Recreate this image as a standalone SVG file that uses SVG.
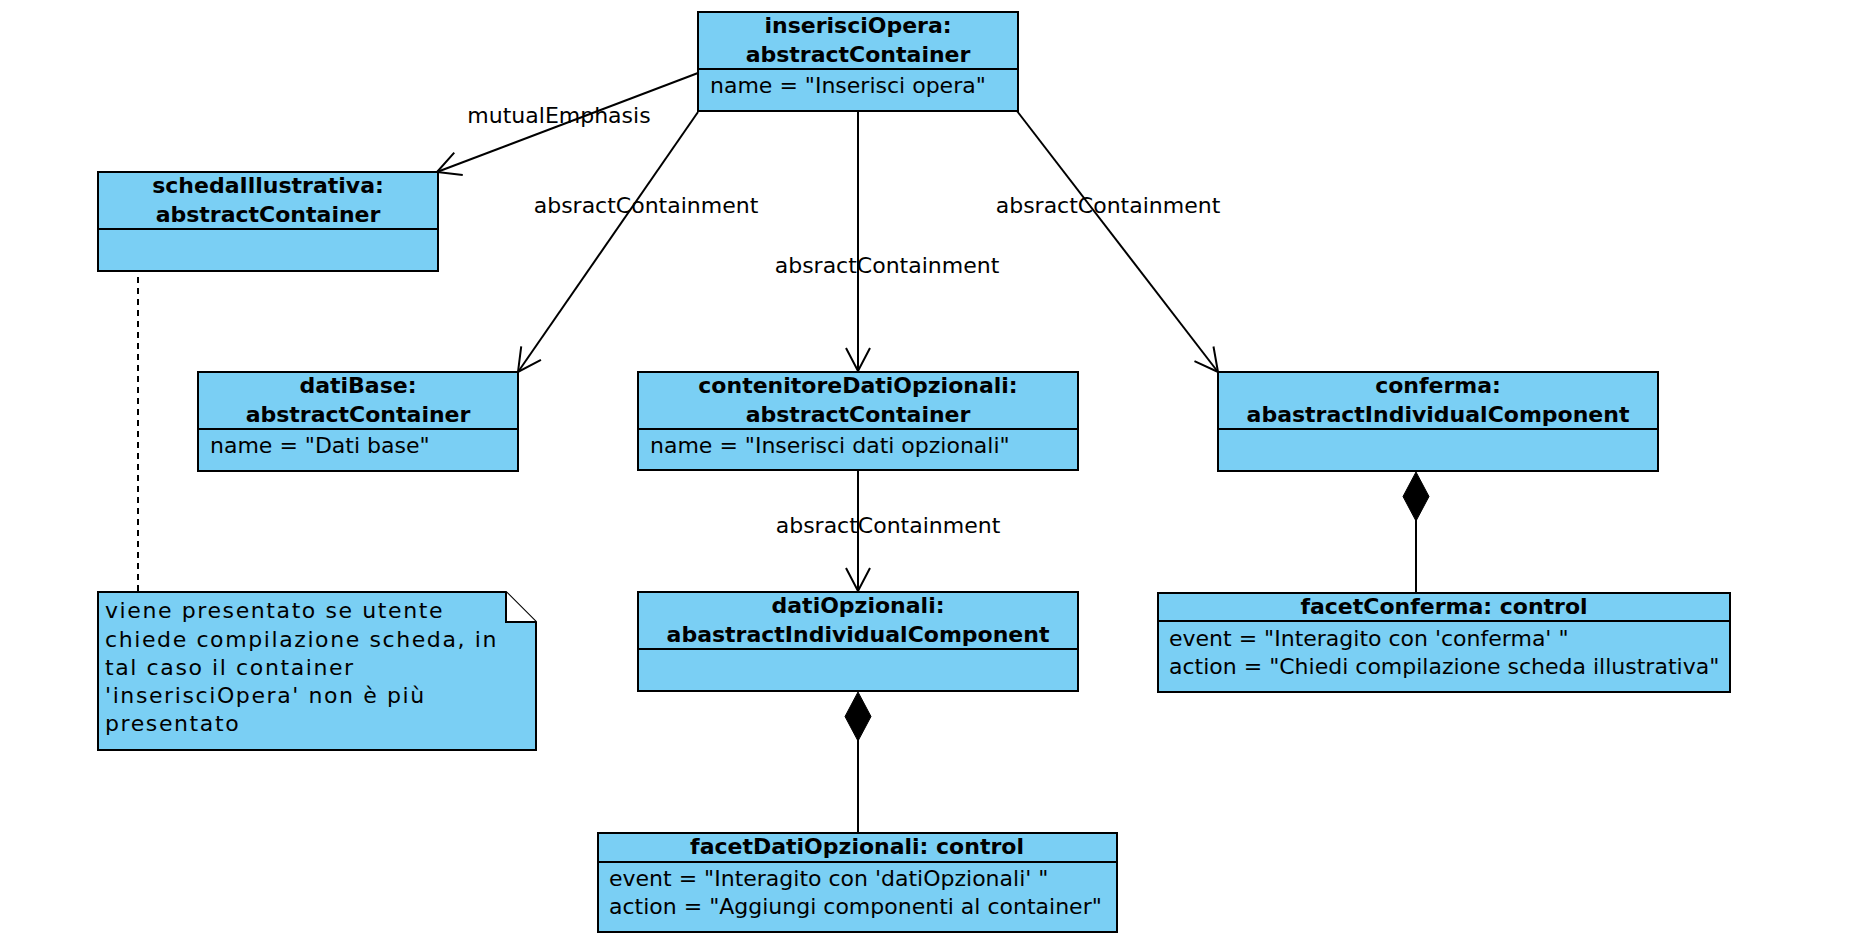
<svg xmlns="http://www.w3.org/2000/svg" width="1852" height="940" viewBox="0 0 1852 940">
<style>
.box{fill:#7acff4;stroke:#000;stroke-width:2}
.div{stroke:#000;stroke-width:2}
.t{font-family:"DejaVu Sans",sans-serif;font-size:22px;fill:#000}
.b{font-weight:bold;text-anchor:middle}
.c{text-anchor:middle}
.ln{stroke:#000;stroke-width:2;fill:none}
.note{letter-spacing:1.6px}
</style>
<defs>
<marker id="open" viewBox="-26 -14 28 28" refX="0" refY="0" markerWidth="28" markerHeight="28" markerUnits="userSpaceOnUse" orient="auto">
<path d="M-23,-12 L0,0 L-23,12" fill="none" stroke="#000" stroke-width="2"/>
</marker>
</defs>
<rect width="1852" height="940" fill="#fff"/>
<g id="connectors">
<line class="ln" x1="698" y1="73" x2="437" y2="172" marker-end="url(#open)"/>
<text class="t c" x="559" y="123">mutualEmphasis</text>
<line class="ln" x1="698" y1="112" x2="518" y2="372" marker-end="url(#open)"/>
<text class="t c" x="646" y="213">absractContainment</text>
<line class="ln" x1="858" y1="111" x2="858" y2="371" marker-end="url(#open)"/>
<text class="t c" x="887" y="273">absractContainment</text>
<line class="ln" x1="1017" y1="111" x2="1218" y2="372" marker-end="url(#open)"/>
<text class="t c" x="1108" y="213">absractContainment</text>
<line class="ln" x1="858" y1="470" x2="858" y2="591" marker-end="url(#open)"/>
<text class="t c" x="888" y="533">absractContainment</text>
<line class="ln" x1="1416" y1="515" x2="1416" y2="593"/>
<path d="M1416,472 L1429,496.5 L1416,521 L1403,496.5 Z" fill="#000" stroke="#000" stroke-width="1"/>
<line class="ln" x1="858" y1="735" x2="858" y2="833"/>
<path d="M858,692 L871,716.5 L858,741 L845,716.5 Z" fill="#000" stroke="#000" stroke-width="1"/>
<line class="ln" x1="138" y1="277" x2="138" y2="592" stroke-dasharray="6,5"/>
</g>
<g id="inserisciOpera">
<rect class="box" x="698" y="12" width="320" height="99"/>
<line class="div" x1="698" y1="69" x2="1018" y2="69"/>
<text class="t b" x="858" y="33">inserisciOpera:</text>
<text class="t b" x="858" y="62">abstractContainer</text>
<text class="t" x="710" y="93">name = "Inserisci opera"</text>
</g>
<g id="schedaIllustrativa">
<rect class="box" x="98" y="172" width="340" height="99"/>
<line class="div" x1="98" y1="229" x2="438" y2="229"/>
<text class="t b" x="268" y="193">schedaIllustrativa:</text>
<text class="t b" x="268" y="222">abstractContainer</text>
</g>
<g id="datiBase">
<rect class="box" x="198" y="372" width="320" height="99"/>
<line class="div" x1="198" y1="429" x2="518" y2="429"/>
<text class="t b" x="358" y="393">datiBase:</text>
<text class="t b" x="358" y="422">abstractContainer</text>
<text class="t" x="210" y="453">name = "Dati base"</text>
</g>
<g id="contenitoreDatiOpzionali">
<rect class="box" x="638" y="372" width="440" height="98"/>
<line class="div" x1="638" y1="429" x2="1078" y2="429"/>
<text class="t b" x="858" y="393">contenitoreDatiOpzionali:</text>
<text class="t b" x="858" y="422">abstractContainer</text>
<text class="t" x="650" y="453">name = "Inserisci dati opzionali"</text>
</g>
<g id="conferma">
<rect class="box" x="1218" y="372" width="440" height="99"/>
<line class="div" x1="1218" y1="429" x2="1658" y2="429"/>
<text class="t b" x="1438" y="393">conferma:</text>
<text class="t b" x="1438" y="422">abastractIndividualComponent</text>
</g>
<g id="datiOpzionali">
<rect class="box" x="638" y="592" width="440" height="99"/>
<line class="div" x1="638" y1="649" x2="1078" y2="649"/>
<text class="t b" x="858" y="613">datiOpzionali:</text>
<text class="t b" x="858" y="642">abastractIndividualComponent</text>
</g>
<g id="facetConferma">
<rect class="box" x="1158" y="593" width="572" height="99"/>
<line class="div" x1="1158" y1="621" x2="1730" y2="621"/>
<text class="t b" x="1444" y="614">facetConferma: control</text>
<text class="t" x="1169" y="646">event = "Interagito con 'conferma' "</text>
<text class="t" x="1169" y="674">action = "Chiedi compilazione scheda illustrativa"</text>
</g>
<g id="facetDatiOpzionali">
<rect class="box" x="598" y="833" width="519" height="99"/>
<line class="div" x1="598" y1="862" x2="1117" y2="862"/>
<text class="t b" x="857" y="854">facetDatiOpzionali: control</text>
<text class="t" x="609" y="886">event = "Interagito con 'datiOpzionali' "</text>
<text class="t" x="609" y="914">action = "Aggiungi componenti al container"</text>
</g>
<g id="note">
<path class="box" d="M98,592 L506,592 L536,622 L536,750 L98,750 Z"/>
<path d="M506,592 L506,622 L536,622" fill="#fff" stroke="#000" stroke-width="2"/>
<text class="t note" x="105" y="618">viene presentato se utente</text>
<text class="t note" x="105" y="647">chiede compilazione scheda, in</text>
<text class="t note" x="105" y="675">tal caso il container</text>
<text class="t note" x="105" y="703">'inserisciOpera' non è più</text>
<text class="t note" x="105" y="731">presentato</text>
</g>
</svg>
